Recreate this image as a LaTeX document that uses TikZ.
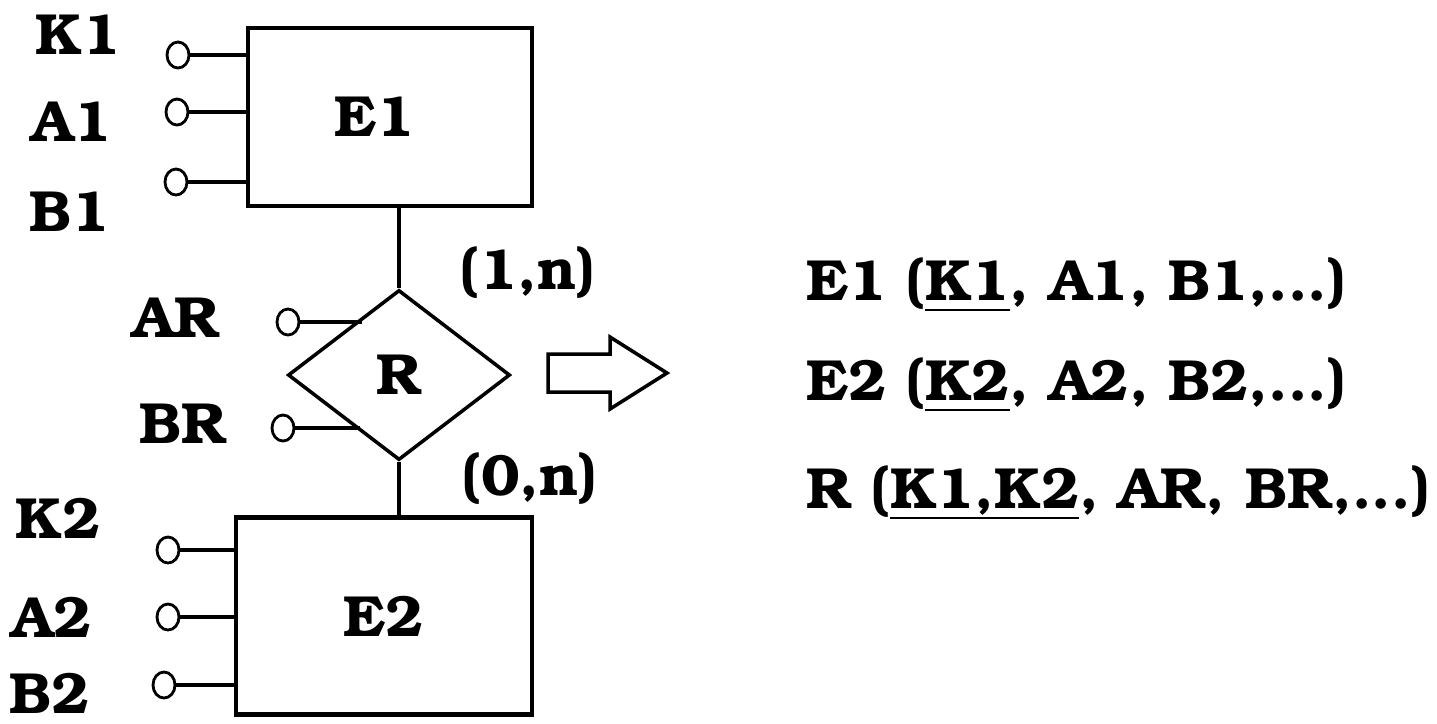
\documentclass[tikz,border=0pt]{standalone}
\usepackage[T1]{fontenc}
\usepackage{bookman}
\usetikzlibrary{shapes.geometric}
% thin underline for key attributes
\newcommand{\keyul}[1]{\setbox0\hbox{#1}\rlap{\raisebox{-3.2pt}{\rule{\wd0}{0.6pt}}}\box0}
\tikzset{
  lbl/.style={font=\fontsize{16.5}{19}\selectfont\bfseries, inner sep=0pt},
  entity/.style={draw, line width=1.3pt, minimum width=2.84cm, minimum height=1.78cm, inner sep=0pt, lbl},
  rel/.style={diamond, draw, line width=1pt, minimum width=2.22cm, minimum height=1.70cm, inner sep=0pt, lbl},
  attr/.style={ellipse, draw, line width=0.8pt, minimum width=0.22cm, minimum height=0.26cm, inner sep=0pt},
  link/.style={line width=1.1pt},
  hollow/.style={draw, line width=1pt, fill=white, line join=miter}
}
\begin{document}
\begin{tikzpicture}[x=0.01cm,y=-0.01cm]
  \useasboundingbox (0,0) rectangle (1437,723);

  % entities and relationship
  \node[entity] (E1) at (390,117) {E1\hspace*{0.3cm}};
  \node[entity, minimum width=2.96cm, minimum height=1.97cm] (E2) at (384,616) {E2};
  \node[rel] (R) at (399,375) {R};

  \draw[link] (R.north) -- (R.north |- E1.south);
  \draw[link] (R.south) -- (R.south |- E2.north);
  \node[lbl] (c1) at (528,272) {(1,n)};
  \node[lbl] (c2) at (530,478) {(0,n)};

  % attributes of E1
  \node[attr] (K1a) at (178,55) {};
  \node[attr] (A1a) at (177,112) {};
  \node[attr] (B1a) at (176,182) {};
  \node[lbl] at (78,35) {K1};
  \node[lbl] at (72,122) {A1};
  \node[lbl] at (70,212) {B1};
  \foreach \a in {K1a,A1a,B1a}
    \draw[link] (\a) -- (\a -| E1.west);

  % attributes of R
  \path (R.north) -- (R.west) coordinate[pos=0.33] (ARe);
  \path (R.west) -- (R.south) coordinate[pos=0.65] (BRe);
  \node[attr] (ARa) at (288,322) {};
  \node[attr] (BRa) at (283,428) {};
  \node[lbl] at (176,318) {AR};
  \node[lbl] at (183,424) {BR};
  \draw[link] (ARa) -- (ARa -| ARe);
  \draw[link] (BRa) -- (BRa -| BRe);

  % attributes of E2
  \node[attr] (K2a) at (168,550) {};
  \node[attr] (A2a) at (168,617) {};
  \node[attr] (B2a) at (164,685) {};
  \node[lbl] at (58,518) {K2};
  \node[lbl] at (52,617) {A2};
  \node[lbl] at (50,693) {B2};
  \foreach \a in {K2a,A2a,B2a}
    \draw[link] (\a) -- (\a -| E2.west);

  % mapping arrow
  \draw[hollow] (548,354) -- (610,354) -- (610,337) -- (667,373)
    -- (610,409) -- (610,392) -- (548,392) -- cycle;

  % resulting relations
  \node[lbl, anchor=base west] (t1) at (806,300) {E1 (\keyul{K1}, A1, B1,...)};
  \node[lbl, anchor=base west] (t2) at (806,400) {E2 (\keyul{K2}, A2, B2,...)};
  \node[lbl, anchor=base west] (t3) at (806,508) {R (\keyul{K1,K2}, AR, BR,...)};
\end{tikzpicture}
\end{document}
